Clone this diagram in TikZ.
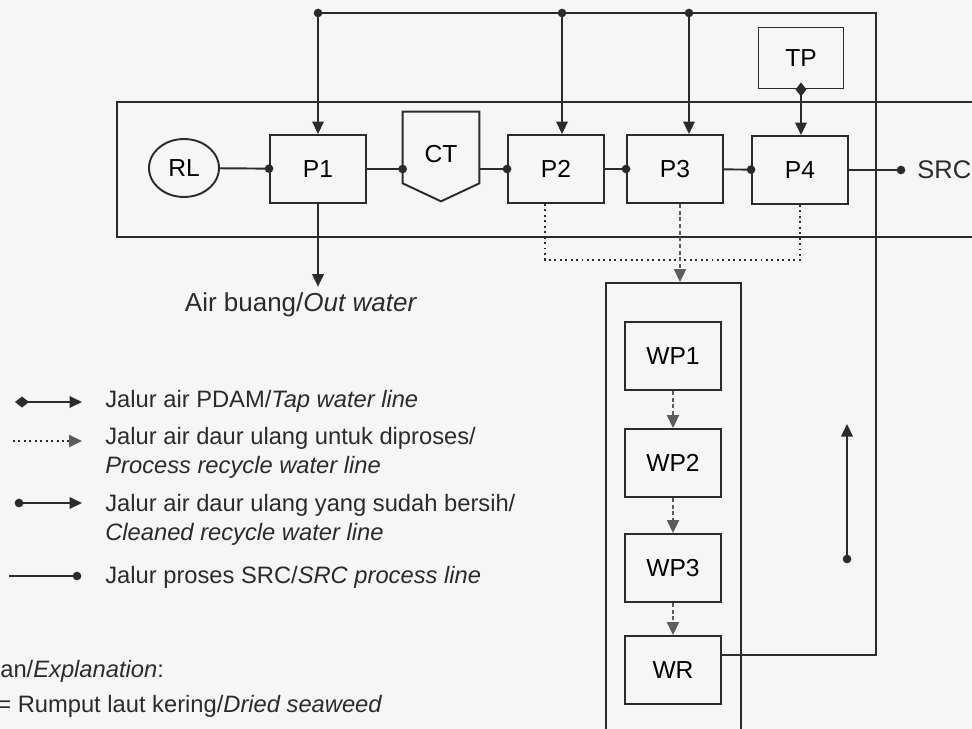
\documentclass[tikz,border=0pt]{standalone}
\usepackage{fontspec}
\setmainfont{Liberation Sans}
\usetikzlibrary{arrows.meta, positioning, calc, shapes.geometric}
\definecolor{sink}{HTML}{2B2B2B}
\definecolor{sgrey}{HTML}{5C5C5C}
\definecolor{spaper}{HTML}{F6F6F6}
\tikzset{
  >=Latex,
  font=\fontsize{13.5}{16}\selectfont,
  pipe/.style={draw=sink, line width=1.1pt},
  frame/.style={draw=sink, line width=1.1pt, inner sep=0pt},
  box/.style={
    draw=sink, line width=1.1pt, inner sep=0pt,
    minimum width=1.92cm, minimum height=1.36cm, font=\fontsize{14}{16}\selectfont
  },
  ring/.style={
    ellipse, draw=sink, line width=1.1pt, inner sep=0pt,
    minimum width=1.4cm, minimum height=1.16cm, font=\fontsize{14}{16}\selectfont
  },
  hopper/.style={
    inner sep=0pt, minimum width=1.52cm, minimum height=1.78cm,
    font=\fontsize{14}{16}\selectfont
  },
  srcline/.style={pipe, -{Circle[length=1.7mm]}, shorten >=-0.85mm},
  cleanline/.style={pipe, {Circle[length=1.7mm]}-{Triangle[length=2.5mm,width=2.3mm]}, shorten <=-0.85mm},
  tapline/.style={pipe, {Diamond[length=2.8mm,width=2.2mm]}-{Triangle[length=2.5mm,width=2.3mm]}, shorten <=-1.4mm},
  flowarr/.style={pipe, -{Triangle[length=2.5mm,width=2.3mm]}},
  dotline/.style={draw=sink, line width=1.1pt, dotted},
  dashline/.style={draw=sgrey, line width=1.1pt, dash pattern=on 2.2pt off 1.6pt,
    -{Triangle[length=2.6mm,width=2.4mm,sgrey]}},
  legtxt/.style={anchor=base west, inner sep=0pt, align=left, text=sink}
}
\begin{document}
\begin{tikzpicture}[x=0.02cm, y=-0.02cm]
  \useasboundingbox (0,0) rectangle (972,729);
  \clip (0,0) rectangle (972,729);
  \fill[spaper] (0,0) rectangle (972,729);

  % frames
  \node[frame, minimum width=17.8cm, minimum height=2.7cm] (bay) at (562,169.5) {};
  \node[frame, minimum width=2.7cm, minimum height=9.6cm] (wpf) at (673.5,523) {};

  % process row
  \node[ring] (rl) at (184,168) {RL};
  \node[box] (p1) at (318,169) {P1};
  \node[hopper] (ct) at (441,156.5) {\raisebox{3pt}{CT}};
  \draw[pipe] (ct.north west) -- (ct.north east) -- ([yshift=3.6mm]ct.south east)
    -- (ct.south) -- ([yshift=3.6mm]ct.south west) -- cycle;
  \node[box] (p2) at (556,169) {P2};
  \node[box] (p3) at (675,169) {P3};
  \node[box] (p4) at (800,170) {P4};
  \node[box, minimum width=1.7cm, minimum height=1.22cm] (tp) at (801,58) {TP};
  \coordinate (srcdot) at (901,170);
  \node[right=0.32cm of srcdot, inner sep=0pt, text=sink, font=\fontsize{14.5}{16}\selectfont] (src) {SRC};

  \draw[srcline] (rl) -- (p1);
  \draw[srcline] (p1.east) -- (ct.west |- p1.east);
  \draw[srcline] (ct.east |- p2.west) -- (p2.west);
  \draw[srcline] (p2) -- (p3);
  \draw[srcline] (p3) -- (p4);
  \draw[srcline] (p4.east) -- (srcdot);

  % out water
  \node[font=\fontsize{14.8}{16}\selectfont, text=sink] (ow) at (301,305) {Air buang/\textit{Out water}};
  \draw[flowarr] (p1) -- (p1 |- ow.north);

  % tap water
  \draw[tapline] (tp.south) -- (tp.south |- p4.north);

  % treatment column
  \node[box] (wp1) at (673,356) {WP1};
  \node[box] (wp2) at (673,463) {WP2};
  \node[box] (wp3) at (673,568) {WP3};
  \node[box] (wr) at (673,670) {WR};
  \draw[dashline] (wp1) -- (wp2);
  \draw[dashline] (wp2) -- (wp3);
  \draw[dashline] (wp3) -- (wr);

  % recycle to treatment
  \coordinate (rx) at (680,260);
  \draw[dotline] ([xshift=-0.22cm]p2.south) |- (rx);
  \draw[dotline] (p4.south) |- (rx);
  \draw[dashline] (p3.south -| rx) -- (rx |- wpf.north);

  % cleaned water back to the row
  \coordinate (j1) at (318,13);
  \coordinate (j2) at (562,13);
  \coordinate (j3) at (689,13);
  \coordinate (rc) at (876,13);
  \coordinate (wrout) at ($(wr.north east)!0.28!(wr.south east)$);
  \draw[pipe] (wrout) -| (rc) -- (j1);
  \draw[cleanline] (j1) -- (p1);
  \draw[cleanline] (j2) -- (j2 |- p2.north);
  \draw[cleanline] (j3) -- (j3 |- p3.north);
  \coordinate (fa) at (847,559);
  \coordinate (fb) at (847,424);
  \draw[cleanline] (fa) -- (fb);

  % legend
  \coordinate (ka1) at (22,402);  \coordinate (kb1) at (82,402);
  \coordinate (ka2) at (13,441);  \coordinate (kb2) at (82,441);
  \coordinate (ka3) at (19,503);  \coordinate (kb3) at (82,503);
  \coordinate (ka4) at (9,576);   \coordinate (kb4) at (77,576);
  \draw[tapline] (ka1) -- (kb1);
  \draw[dotline, -{Triangle[length=2.6mm,width=2.4mm,sgrey]}] (ka2) -- (kb2);
  \draw[cleanline] (ka3) -- (kb3);
  \draw[srcline] (ka4) -- (kb4);
  \node[legtxt] (k1) at (105,407) {Jalur air PDAM/\textit{Tap water line}};
  \node[legtxt] (k2) at (105,473) {Jalur air daur ulang untuk diproses/\\\textit{Process recycle water line}};
  \node[legtxt] (k3) at (105,540) {Jalur air daur ulang yang sudah bersih/\\\textit{Cleaned recycle water line}};
  \node[legtxt] (k4) at (105,583) {Jalur proses SRC/\textit{SRC process line}};
  \node[legtxt] (ket) at (0,677) {an/\textit{Explanation}:};
  \node[legtxt] (krl) at (-3,712) {= Rumput laut kering/\textit{Dried seaweed}};
\end{tikzpicture}
\end{document}
